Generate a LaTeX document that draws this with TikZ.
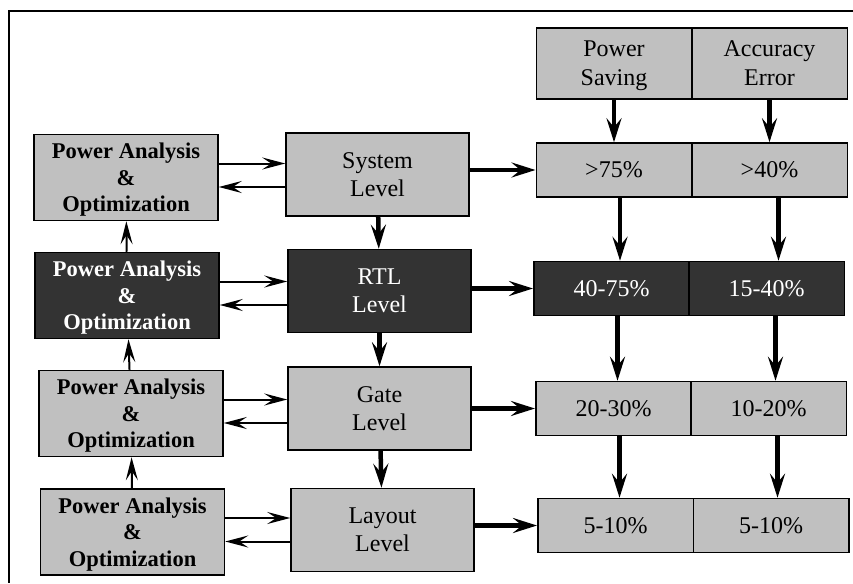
\documentclass[tikz,border=0pt]{standalone}
\usepackage{fontspec}
\setmainfont{Liberation Serif}
\usetikzlibrary{arrows.meta}

\definecolor{boxgray}{HTML}{C0C0C0}
\definecolor{boxdark}{HTML}{333333}

\begin{document}
\begin{tikzpicture}[x=1pt, y=-1pt,
  pa/.style={draw, line width=1.5pt, fill=boxgray, align=center, inner sep=0pt, text depth=-6pt,
    minimum width=184pt, minimum height=86pt, font=\fontsize{22.5}{26.5}\selectfont\bfseries},
  lvl/.style={draw, line width=1.5pt, fill=boxgray, align=center, inner sep=0pt,
    minimum width=183pt, minimum height=83pt, font=\fontsize{24}{28}\selectfont},
  cell/.style={draw, line width=1.5pt, fill=boxgray, align=center, inner sep=0pt,
    minimum width=155.5pt, minimum height=54pt, font=\fontsize{24}{29}\selectfont},
  dark/.style={fill=boxdark, text=white},
  thin/.style={-{Stealth[length=23pt,width=12pt,inset=9pt]}, line width=2pt},
  thick/.style={-{Stealth[length=24pt,width=15pt,inset=9pt]}, line width=4.5pt}]
  \useasboundingbox (0,0) rectangle (853,583);
  \draw[line width=1.5pt] (853,11) -- (9,11) -- (9,583);

  % analysis column
  \node[pa] (pa1) at (126,177.5) {Power Analysis\\\&\\Optimization};
  \node[pa, dark] (pa2) at (127,295.5) {Power Analysis\\\&\\Optimization};
  \node[pa] (pa3) at (131,413.5) {Power Analysis\\\&\\Optimization};
  \node[pa] (pa4) at (132.5,532) {Power Analysis\\\&\\Optimization};

  % abstraction levels
  \node[lvl] (sys) at (377.5,174.5) {System\\Level};
  \node[lvl, dark] (rtl) at (379.5,291) {RTL\\Level};
  \node[lvl] (gate) at (379.5,408.5) {Gate\\Level};
  \node[lvl] (layout) at (382.5,530) {Layout\\Level};

  % saving / error table
  \node[cell, minimum height=71pt, text depth=0pt] (hps) at (614,63.5) {Power\\Saving};
  \node[cell, minimum height=71pt, text depth=0pt] (hae) at (769.5,63.5) {Accuracy\\Error};
  \node[cell] (ps1) at (614,170) {>75\%};
  \node[cell] (ae1) at (769.5,170) {>40\%};
  \node[cell, dark] (ps2) at (611.5,288.5) {40-75\%};
  \node[cell, dark] (ae2) at (766.5,288.5) {15-40\%};
  \node[cell] (ps3) at (613.5,408.5) {20-30\%};
  \node[cell] (ae3) at (768.5,408.5) {10-20\%};
  \node[cell] (ps4) at (615.5,525.5) {5-10\%};
  \node[cell] (ae4) at (771,525.5) {5-10\%};

  \draw[thin] (pa2) -- (pa1);
  \draw[thin] (pa3) -- (pa2);
  \draw[thin] (pa4) -- (pa3);
  \draw[thick] (sys) -- (rtl);
  \draw[thick] (rtl) -- (gate);
  \draw[thick] (gate) -- (layout);
  \foreach \a/\b in {pa1/sys, pa2/rtl, pa3/gate, pa4/layout} {
    \draw[thin] ([yshift=14pt]\a.east) -- ([yshift=14pt]\a.east -| \b.west);
    \draw[thin] ([yshift=-9.5pt]\a.east -| \b.west) -- ([yshift=-9.5pt]\a.east);
  }
  \foreach \a/\b in {sys/ps1, rtl/ps2, gate/ps3, layout/ps4}
    \draw[thick] (\b.west -| \a.east) -- (\b.west);
  \draw[thick] (hps) -- (ps1);
  \draw[thick] (hae) -- (ae1);
  \foreach \a/\b in {1/2, 2/3, 3/4} {
    \draw[thick] ([xshift=6pt]ps\a.south) -- ([xshift=6pt]ps\a.south |- ps\b.north);
    \draw[thick] ([xshift=9pt]ae\a.south) -- ([xshift=9pt]ae\a.south |- ae\b.north);
  }
\end{tikzpicture}
\end{document}
